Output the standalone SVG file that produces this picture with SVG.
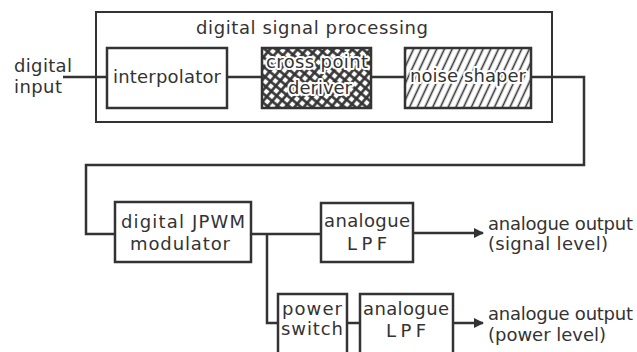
<svg xmlns="http://www.w3.org/2000/svg" width="637" height="352" viewBox="0 0 637 352">
<style>
.box{fill:#fff;stroke:#333;stroke-width:2.5}
.outer{fill:none;stroke:#333;stroke-width:2}
.wire{fill:none;stroke:#333;stroke-width:2.5}
text{font-family:"DejaVu Sans","Liberation Sans",sans-serif;fill:#333;font-size:18px}
.m{text-anchor:middle}
.halo{paint-order:stroke;stroke:#fff;stroke-width:4;stroke-linejoin:round}
</style>
<defs>
<pattern id="xh" width="7" height="7" patternUnits="userSpaceOnUse" patternTransform="rotate(40)">
<rect width="7" height="7" fill="#333"/>
<rect x="1.8" y="1.8" width="4.4" height="4.4" fill="#fff"/>
</pattern>
<pattern id="dh" width="7" height="7" patternUnits="userSpaceOnUse" patternTransform="rotate(25)">
<rect width="7" height="7" fill="#fff"/>
<line x1="3.5" y1="0" x2="3.5" y2="7" stroke="#333" stroke-width="1.6"/>
</pattern>
<marker id="arr" markerWidth="10" markerHeight="10" refX="9" refY="5" orient="auto" markerUnits="userSpaceOnUse">
<path d="M0,0 L10,5 L0,10 Z" fill="#333"/>
</marker>
</defs>
<g id="connectors">
<path class="wire" d="M63,77 H107"/>
<path class="wire" d="M227,77 H262"/>
<path class="wire" d="M371,77 H405"/>
<path class="wire" d="M531,77 H584 V165 H86 V234 H115"/>
<path class="wire" d="M251,234 H321"/>
<path class="wire" d="M413,233 H483" marker-end="url(#arr)"/>
<path class="wire" d="M267,234 V323 H278"/>
<path class="wire" d="M347,323 H360"/>
<path class="wire" d="M453,323 H483" marker-end="url(#arr)"/>
</g>
<g id="dsp">
<rect class="outer" x="96" y="12" width="456" height="110"/>
<text class="m" x="312" y="34" textLength="232">digital signal processing</text>
</g>
<g id="digital-input">
<text x="14" y="72" textLength="58">digital</text>
<text x="14" y="93" textLength="48">input</text>
</g>
<g id="interpolator">
<rect class="box" x="107" y="48" width="120" height="60"/>
<text class="m" x="167" y="83" textLength="108">interpolator</text>
</g>
<g id="cross-point-deriver">
<rect class="box" x="262" y="48" width="109" height="60" style="fill:url(#xh)"/>
<text class="m halo" x="317" y="68" textLength="102">cross point</text>
<text class="m halo" x="320" y="94" textLength="64">deriver</text>
</g>
<g id="noise-shaper">
<rect class="box" x="405" y="48" width="126" height="60" style="fill:url(#dh)"/>
<text class="m halo" x="468" y="82" textLength="116">noise shaper</text>
</g>
<g id="modulator">
<rect class="box" x="115" y="202" width="136" height="60"/>
<text class="m" x="183" y="228" textLength="124">digital JPWM</text>
<text class="m" x="180" y="250" textLength="100">modulator</text>
</g>
<g id="lpf-signal">
<rect class="box" x="321" y="203" width="92" height="59"/>
<text class="m" x="367" y="227" textLength="86">analogue</text>
<text class="m" x="367" y="250" textLength="40">LPF</text>
</g>
<g id="power-switch">
<rect class="box" x="278" y="294" width="69" height="70"/>
<text class="m" x="312" y="315" textLength="60">power</text>
<text class="m" x="312" y="335" textLength="62">switch</text>
</g>
<g id="lpf-power">
<rect class="box" x="360" y="294" width="93" height="70"/>
<text class="m" x="406" y="315" textLength="86">analogue</text>
<text class="m" x="406" y="337" textLength="40">LPF</text>
</g>
<g id="out-signal">
<text x="488" y="230" textLength="145">analogue output</text>
<text x="488" y="250" textLength="120">(signal level)</text>
</g>
<g id="out-power">
<text x="488" y="320" textLength="145">analogue output</text>
<text x="488" y="341" textLength="118">(power level)</text>
</g>
</svg>
